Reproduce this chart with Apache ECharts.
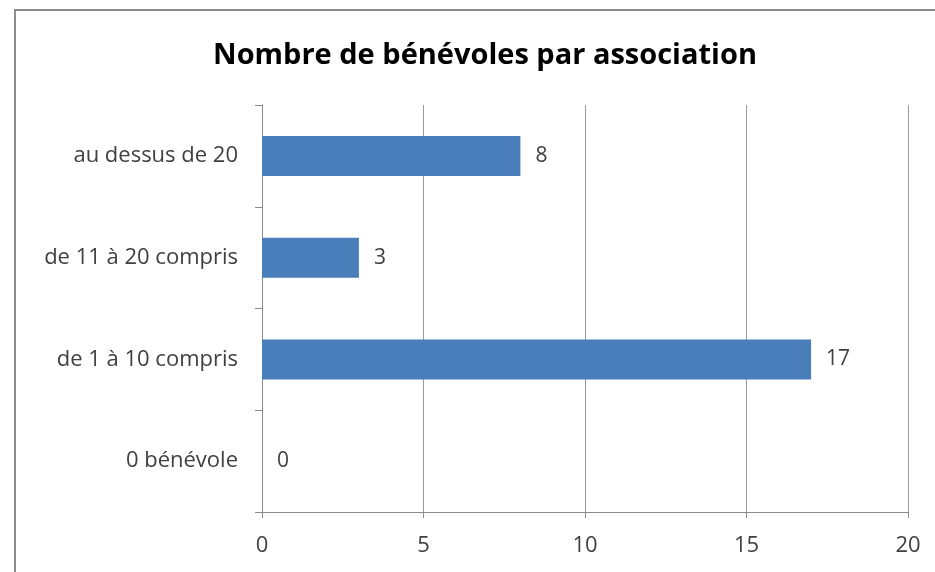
<!DOCTYPE html>
<html>
<head>
<meta charset="utf-8">
<script src="https://cdn.jsdelivr.net/npm/echarts@6/dist/echarts.min.js"></script>
<style>
  html, body { margin: 0; padding: 0; background: #fff; }
  #frame {
    position: absolute; left: 14px; top: 9px; width: 1000px; height: 700px;
    border-left: 2px solid #8c8c8c; border-top: 2px solid #8c8c8c;
  }
  #chart { position: absolute; left: 0; top: 0; width: 935px; height: 572px; }
</style>
</head>
<body>
<div id="frame"></div>
<div id="chart"></div>
<script>
// categories listed bottom to top, as the category axis draws them
const categories = ['0 bénévole', 'de 1 à 10 compris', 'de 11 à 20 compris', 'au dessus de 20'];
const values = [0, 17, 3, 8];

const font = 'Open Sans';
const textColor = '#404040';

const chart = echarts.init(document.getElementById('chart'));
chart.setOption({
  animation: false,
  title: {
    text: 'Nombre de bénévoles par association',
    left: 480,
    textAlign: 'center',
    top: 36,
    textStyle: { fontFamily: font, fontSize: 29, fontWeight: 'bold', color: '#000' }
  },
  grid: { left: 262, right: 27, top: 105, bottom: 60 },
  xAxis: {
    type: 'value',
    min: 0,
    max: 20,
    interval: 5,
    axisLine: { show: true, lineStyle: { color: '#8c8c8c', width: 1 } },
    axisTick: { show: true, length: 6, lineStyle: { color: '#8c8c8c' } },
    axisLabel: { margin: 23, fontFamily: font, fontSize: 22, color: textColor },
    splitLine: { show: true, lineStyle: { color: '#9a9a9a', width: 1 } }
  },
  yAxis: {
    type: 'category',
    data: categories,
    axisLine: { show: true, lineStyle: { color: '#8c8c8c', width: 1 } },
    axisTick: { show: true, length: 7, lineStyle: { color: '#8c8c8c' } },
    axisLabel: { margin: 24, fontFamily: font, fontSize: 22, color: textColor }
  },
  series: [{
    type: 'bar',
    data: values,
    barWidth: 40,
    itemStyle: { color: '#4a7ebb' },
    label: {
      show: true,
      position: 'right',
      distance: 15,
      fontFamily: font,
      fontSize: 21,
      color: textColor
    }
  }]
});
</script>
</body>
</html>
